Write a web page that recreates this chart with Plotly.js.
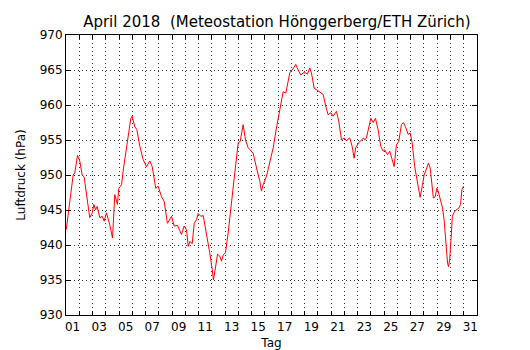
<!DOCTYPE html>
<html>
<head>
<meta charset="utf-8">
<script src="https://cdn.plot.ly/plotly-3.0.1.min.js"></script>
<style>html,body{margin:0;padding:0;background:#fff;}#chart{width:530px;height:350px;}</style>
</head>
<body>
<div id="chart"></div>
<script>
// Day of April (0 = 1 April 00:00)
const days = [0.02,0.54,0.66,0.87,1.04,1.22,1.37,1.79,1.98,2.10,2.23,2.35,2.55,2.73,2.88,3.05,3.30,3.51,3.68,3.88,3.98,4.19,4.34,
  4.49,4.64,4.89,4.99,5.19,5.34,5.57,5.82,6.07,6.32,6.50,6.77,6.95,7.20,7.41,7.65,7.96,8.16,8.41,8.71,8.91,
  9.09,9.22,9.34,9.52,9.67,9.84,9.97,10.17,10.35,10.60,10.84,11.03,11.12,11.27,11.43,11.60,11.73,11.86,12.03,12.23,12.48,12.73,12.99,13.14,13.36,
  13.54,13.74,13.94,14.12,14.37,14.62,14.74,14.87,15.12,15.37,15.63,15.87,16.12,16.38,16.58,16.88,17.13,17.33,17.51,17.71,17.91,
  18.06,18.21,18.39,18.51,18.72,18.89,19.14,19.40,19.57,19.77,19.97,20.15,20.40,20.57,20.78,20.98,21.15,21.40,21.58,21.73,21.85,22.08,22.44,
  22.53,22.66,22.84,22.99,23.17,23.34,23.54,23.74,23.92,24.04,24.25,24.42,24.60,24.75,24.92,25.10,25.30,25.45,25.60,25.81,25.96,26.11,26.30,26.51,26.71,
  26.89,27.01,27.21,27.34,27.47,27.56,27.71,27.85,27.97,28.07,28.27,28.40,28.52,28.65,28.78,28.85,28.94,29.07,29.14,29.31,29.46,29.64,29.76,29.86,29.98];
// Air pressure (hPa)
const pressure = [942.2,950.0,950.3,952.8,952.0,950.0,949.7,943.9,944.6,945.8,945.0,945.5,943.9,944.1,943.4,944.6,942.9,941.0,947.2,945.8,948.1,948.6,951.0,
  952.9,955.0,958.1,958.4,956.9,956.5,954.1,952.2,951.2,952.0,951.2,948.1,948.4,946.9,946.2,943.1,944.1,942.7,942.8,941.5,942.7,
  942.2,939.8,940.5,940.2,943.1,943.6,944.5,944.1,944.2,941.7,938.9,936.5,935.0,936.7,938.7,938.4,937.7,938.6,938.9,941.7,946.5,950.3,954.6,954.8,957.2,
  955.0,953.9,953.4,953.1,951.0,949.1,947.7,948.6,949.8,951.9,953.9,956.7,959.1,961.9,961.7,964.6,965.2,965.8,965.0,964.3,964.6,
  964.6,964.4,965.3,964.6,962.4,962.2,961.9,961.5,960.0,958.6,958.9,958.4,959.1,957.7,955.0,955.3,954.9,955.3,954.1,952.4,953.9,954.6,955.3,
  955.0,955.3,956.7,958.1,957.5,958.1,956.5,954.1,953.4,953.6,952.9,953.4,952.2,951.2,954.3,954.8,957.2,957.5,956.9,955.8,956.0,954.6,951.2,948.8,946.8,
  948.6,950.0,951.0,951.7,951.0,949.1,946.7,946.9,948.1,947.7,946.2,945.3,943.6,940.3,937.4,936.9,937.9,941.7,944.1,944.8,945.0,945.3,945.8,947.9,948.4];
// Day ticks and labels
const dayTicks = [0,1,2,3,4,5,6,7,8,9,10,11,12,13,14,15,16,17,18,19,20,21,22,23,24,25,26,27,28,29,30,31];
const labelPos = [0.5,2.5,4.5,6.5,8.5,10.5,12.5,14.5,16.5,18.5,20.5,22.5,24.5,26.5,28.5,30.5];
const labelText = ['01','03','05','07','09','11','13','15','17','19','21','23','25','27','29','31'];
const yTicks = [930,935,940,945,950,955,960,965,970];

const font = {family: 'DejaVu Sans, sans-serif', size: 12, color: '#000'};
const gridDash = '1px,3px';
const gridColor = '#333';

const data = [{
  x: days, y: pressure, type: 'scatter', mode: 'lines',
  line: {color: '#ff0000', width: 1}, hoverinfo: 'skip', xaxis: 'x', yaxis: 'y'
}];

const layout = {
  width: 530, height: 350,
  margin: {l: 66, r: 53, t: 35, b: 35, pad: 0},
  paper_bgcolor: '#fff', plot_bgcolor: '#fff',
  showlegend: false,
  font: font,
  title: {text: 'April 2018  (Meteostation Hönggerberg/ETH Zürich)', font: {family: 'DejaVu Sans, sans-serif', size: 15, color: '#000'},
    x: 0.5132, xanchor: 'center', xref: 'paper', y: 0.937, yref: 'container', yanchor: 'middle'},
  xaxis: {
    range: [0, 31], tickmode: 'array', tickvals: dayTicks, showticklabels: false,
    ticks: 'inside', ticklen: 4, tickcolor: '#000', tickwidth: 1,
    showgrid: true, gridcolor: gridColor, gridwidth: 1, griddash: gridDash,
    showline: true, linecolor: '#000', linewidth: 1, mirror: 'ticks', zeroline: false
  },
  xaxis2: {
    overlaying: 'x', anchor: 'y', side: 'bottom', range: [0, 31],
    tickmode: 'array', tickvals: labelPos, ticktext: labelText, ticks: '',
    showgrid: false, zeroline: false, showline: false,
    tickfont: font, ticklabelstandoff: 3,
    title: {text: 'Tag', font: font, standoff: 6}
  },
  yaxis: {
    range: [930, 970], tickmode: 'array', tickvals: yTicks,
    ticks: 'inside', ticklen: 5, tickcolor: '#000', tickwidth: 1,
    showgrid: true, gridcolor: gridColor, gridwidth: 1, griddash: gridDash,
    showline: true, linecolor: '#000', linewidth: 1, mirror: 'ticks', zeroline: false,
    tickfont: font,
    title: {text: 'Luftdruck (hPa)', font: font, standoff: 11}
  }
};

// invisible trace to activate the label axis
data.push({x: [0, 31], y: [930, 930], xaxis: 'x2', yaxis: 'y', mode: 'lines', line: {width: 0}, hoverinfo: 'skip', showlegend: false, opacity: 0});

Plotly.newPlot('chart', data, layout, {staticPlot: true, displayModeBar: false});
</script>
</body>
</html>
